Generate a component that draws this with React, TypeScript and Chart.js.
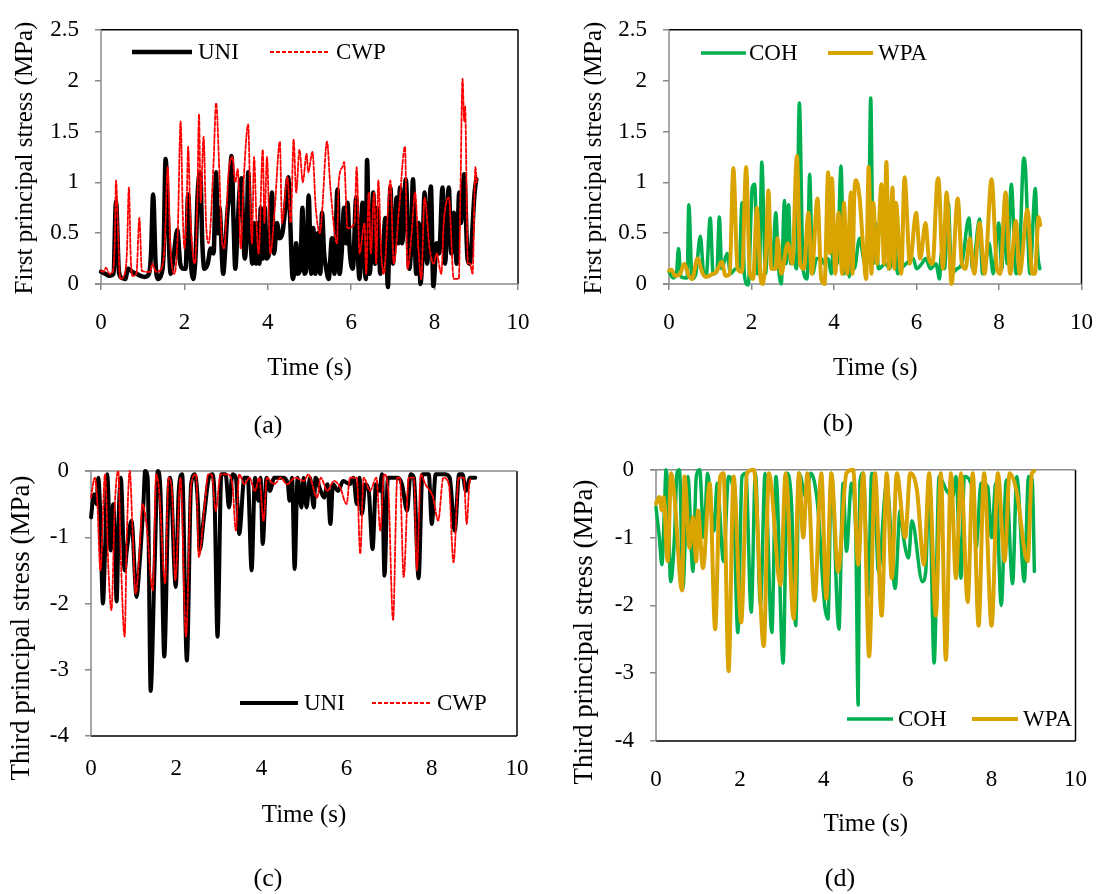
import React, { useEffect, useRef } from "react";
import { Chart, registerables } from "chart.js";
Chart.register(...registerables);

const FONT = "'Liberation Serif', 'Times New Roman', Times, serif";

type Pt = [number, number];

// ---------- (a) First principal stress: UNI / CWP ----------
const uniFirst: Pt[] = [[0,0.12],[0.1,0.1],[0.2,0.08],[0.3,0.1],[0.36,0.81],[0.43,0.12],[0.5,0.06],[0.58,0.05],[0.65,0.15],[0.75,0.12],[0.85,0.1],[0.95,0.08],[1.05,0.07],[1.15,0.1],[1.2,0.3],[1.25,0.88],[1.31,0.2],[1.37,0.05],[1.45,0.1],[1.5,0.3],[1.55,1.23],[1.61,0.6],[1.67,0.1],[1.75,0.3],[1.83,0.53],[1.9,0.2],[1.97,0.15],[2.03,0.15],[2.09,0.88],[2.15,0.25],[2.21,0.05],[2.27,0.3],[2.32,0.9],[2.38,1.1],[2.43,0.4],[2.48,0.15],[2.56,0.2],[2.63,0.35],[2.7,0.3],[2.76,1.1],[2.8,0.5],[2.84,0.75],[2.93,0.1],[2.98,0.35],[3.03,0.7],[3.08,0.9],[3.13,1.26],[3.18,0.6],[3.22,0.15],[3.27,0.5],[3.32,0.9],[3.37,1.04],[3.41,0.5],[3.45,0.25],[3.5,0.6],[3.53,1.1],[3.58,0.5],[3.63,0.2],[3.67,0.6],[3.72,0.2],[3.77,0.6],[3.8,0.2],[3.83,0.75],[3.88,0.25],[3.93,0.75],[3.97,0.25],[4.03,0.3],[4.1,0.9],[4.15,0.3],[4.22,0.6],[4.28,0.45],[4.35,0.5],[4.43,0.8],[4.49,1.05],[4.53,0.7],[4.6,0.05],[4.64,0.15],[4.68,0.4],[4.72,0.1],[4.78,0.15],[4.83,0.75],[4.88,0.1],[4.93,0.2],[4.98,0.87],[5.04,0.1],[5.09,0.55],[5.14,0.1],[5.2,0.5],[5.26,0.1],[5.3,0.7],[5.35,0.3],[5.4,0.15],[5.46,0.05],[5.54,0.45],[5.6,0.1],[5.67,0.93],[5.72,0.1],[5.77,0.3],[5.83,0.75],[5.88,0.4],[5.91,0.8],[5.97,0.3],[6.04,0.15],[6.12,0.85],[6.16,0.3],[6.2,0.05],[6.27,0.8],[6.32,0.2],[6.35,0.05],[6.38,1.22],[6.44,0.1],[6.49,0.4],[6.53,0.9],[6.57,0.2],[6.62,0.75],[6.7,0.1],[6.76,0.3],[6.82,0.65],[6.88,-0.03],[6.94,0.95],[7.0,0.2],[7.05,0.5],[7.09,0.85],[7.13,0.4],[7.17,0.95],[7.22,0.4],[7.31,1.03],[7.39,0.15],[7.44,0.4],[7.48,1.03],[7.56,0.1],[7.62,0.6],[7.66,0.0],[7.71,0.3],[7.76,0.9],[7.82,0.2],[7.91,0.96],[7.97,-0.02],[8.05,0.4],[8.11,0.3],[8.19,0.95],[8.25,0.2],[8.34,0.95],[8.4,0.3],[8.46,0.7],[8.53,0.2],[8.59,0.9],[8.63,0.6],[8.71,1.08],[8.79,0.25],[8.84,0.2],[8.96,0.9],[9.0,1.03]];
const cwpFirst: Pt[] = [[0,0.13],[0.06,0.12],[0.12,0.16],[0.2,0.1],[0.28,0.12],[0.33,0.4],[0.36,1.02],[0.41,0.5],[0.46,0.05],[0.55,0.08],[0.62,0.3],[0.67,0.95],[0.71,0.3],[0.75,0.08],[0.85,0.1],[0.92,0.65],[0.98,0.13],[1.1,0.12],[1.18,0.12],[1.23,0.2],[1.32,0.12],[1.45,0.15],[1.53,0.4],[1.6,1.15],[1.66,0.4],[1.76,0.1],[1.84,0.5],[1.91,1.6],[1.96,0.7],[2.0,0.35],[2.05,0.7],[2.09,1.35],[2.14,0.7],[2.25,0.2],[2.31,0.8],[2.35,1.67],[2.39,0.8],[2.46,1.45],[2.52,0.6],[2.58,0.4],[2.7,1.2],[2.76,1.78],[2.83,1.2],[2.89,0.5],[2.95,0.35],[3.06,1.1],[3.15,1.25],[3.22,1.0],[3.28,1.13],[3.35,0.35],[3.42,1.0],[3.53,1.57],[3.58,0.8],[3.62,0.4],[3.67,1.25],[3.73,0.6],[3.78,0.3],[3.88,1.32],[3.92,0.6],[3.98,1.25],[4.06,0.3],[4.16,0.7],[4.29,1.4],[4.34,0.6],[4.47,1.05],[4.55,0.6],[4.62,1.42],[4.68,0.9],[4.76,1.32],[4.84,1.0],[4.93,1.28],[4.97,1.1],[5.07,1.3],[5.15,0.75],[5.25,0.5],[5.3,0.7],[5.42,1.4],[5.5,0.95],[5.66,0.4],[5.7,1.0],[5.79,1.15],[5.83,1.2],[5.91,0.55],[6.08,0.6],[6.13,1.15],[6.2,0.3],[6.32,0.6],[6.36,0.1],[6.42,0.9],[6.47,0.3],[6.55,0.9],[6.6,0.2],[6.65,1.02],[6.72,0.3],[6.78,0.1],[6.94,1.02],[7.02,0.2],[7.15,0.75],[7.29,1.35],[7.35,0.15],[7.45,0.5],[7.53,0.9],[7.62,0.3],[7.68,0.05],[7.76,0.85],[7.88,0.35],[7.98,0.2],[8.05,0.3],[8.16,0.1],[8.22,0.6],[8.34,0.85],[8.46,0.05],[8.58,0.05],[8.62,0.9],[8.67,2.02],[8.71,1.6],[8.73,1.75],[8.8,0.2],[8.85,0.2],[8.91,0.1],[8.98,1.15],[9.01,1.0]];

// ---------- (b) First principal stress: COH / WPA ----------
const cohFirst: Pt[] = [[0,0.12],[0.1,0.06],[0.18,0.1],[0.23,0.35],[0.29,0.07],[0.44,0.06],[0.48,0.78],[0.56,0.05],[0.65,0.1],[0.76,0.47],[0.84,0.1],[0.9,0.07],[1.0,0.65],[1.07,0.1],[1.16,0.12],[1.22,0.66],[1.28,0.15],[1.41,0.3],[1.49,0.1],[1.62,0.15],[1.7,0.15],[1.77,0.8],[1.83,0.08],[1.92,-0.01],[2.02,0.95],[2.08,0.98],[2.14,0.1],[2.19,0.1],[2.25,1.2],[2.34,0.1],[2.42,0.6],[2.5,0.15],[2.59,0.7],[2.65,0.2],[2.72,0.0],[2.8,0.82],[2.84,0.2],[2.9,0.78],[2.95,0.2],[3.01,0.3],[3.09,0.15],[3.16,1.78],[3.25,0.15],[3.35,0.05],[3.41,1.08],[3.48,0.1],[3.58,0.25],[3.69,0.25],[3.76,0.2],[3.85,0.25],[3.94,0.1],[3.98,0.35],[4.08,0.2],[4.17,1.16],[4.24,0.1],[4.32,0.3],[4.37,0.07],[4.45,0.4],[4.49,0.15],[4.62,0.45],[4.75,0.2],[4.83,0.25],[4.89,1.83],[4.95,0.2],[5.0,0.6],[5.08,0.15],[5.25,0.2],[5.35,0.15],[5.46,0.5],[5.54,0.1],[5.63,0.15],[5.75,0.2],[5.92,0.25],[6.0,0.15],[6.13,0.2],[6.22,0.25],[6.34,0.15],[6.47,0.2],[6.56,0.05],[6.6,0.3],[6.68,0.15],[6.77,0.8],[6.85,0.1],[6.98,0.15],[7.1,0.2],[7.27,0.65],[7.36,0.15],[7.53,0.64],[7.6,0.1],[7.69,0.25],[7.76,0.4],[7.86,0.1],[7.99,0.6],[8.07,0.15],[8.12,0.65],[8.2,0.2],[8.3,0.98],[8.41,0.1],[8.5,0.3],[8.6,1.24],[8.64,1.15],[8.75,0.1],[8.88,0.94],[8.94,0.3],[8.99,0.15]];
const wpaFirst: Pt[] = [[0,0.13],[0.06,0.14],[0.14,0.08],[0.27,0.1],[0.37,0.2],[0.48,0.08],[0.56,0.05],[0.69,0.25],[0.82,0.1],[0.9,0.07],[1.07,0.1],[1.15,0.12],[1.28,0.22],[1.37,0.08],[1.47,0.1],[1.56,1.14],[1.66,0.15],[1.77,0.12],[1.87,1.15],[1.96,0.1],[2.04,0.05],[2.13,0.75],[2.21,0.1],[2.27,0.0],[2.36,0.4],[2.41,0.92],[2.48,0.15],[2.59,0.15],[2.63,0.45],[2.72,0.1],[2.88,0.4],[2.99,0.2],[3.1,1.26],[3.18,0.2],[3.27,0.15],[3.38,0.7],[3.46,0.1],[3.6,0.84],[3.69,0.05],[3.77,0.0],[3.86,1.1],[3.9,0.3],[3.95,1.04],[4.03,0.1],[4.11,0.7],[4.2,0.1],[4.24,0.8],[4.32,0.1],[4.41,0.9],[4.45,0.1],[4.49,0.85],[4.53,1.02],[4.62,0.85],[4.7,0.4],[4.78,0.05],[4.84,1.15],[4.91,0.1],[4.95,0.8],[5.04,0.2],[5.15,0.98],[5.21,0.2],[5.27,1.2],[5.33,0.15],[5.42,0.95],[5.46,0.15],[5.5,0.8],[5.63,0.1],[5.71,1.05],[5.84,0.2],[5.99,0.7],[6.09,0.25],[6.22,0.6],[6.3,0.25],[6.39,0.2],[6.5,1.0],[6.53,1.04],[6.64,0.15],[6.73,0.9],[6.85,0.0],[7.0,0.84],[7.1,0.2],[7.19,0.15],[7.29,0.45],[7.4,0.1],[7.53,0.6],[7.65,0.1],[7.82,1.03],[7.95,0.15],[8.03,0.1],[8.16,0.9],[8.27,0.1],[8.41,0.62],[8.5,0.1],[8.69,0.73],[8.81,0.1],[8.87,0.1],[8.96,0.66],[9.0,0.58]];

// ---------- (c) Third principal stress: UNI / CWP ----------
const uniThird: Pt[] = [[0,-0.7],[0.07,-0.35],[0.13,-0.5],[0.17,-0.1],[0.21,-0.5],[0.28,-2.0],[0.33,-1.2],[0.38,-0.05],[0.46,-1.2],[0.52,-0.5],[0.56,-1.0],[0.6,-1.97],[0.66,-0.5],[0.7,-0.1],[0.79,-1.5],[0.84,-1.2],[0.95,-0.75],[1.07,-1.9],[1.13,-1.5],[1.23,-0.5],[1.27,0.0],[1.33,-0.1],[1.4,-3.32],[1.49,-1.5],[1.57,0.0],[1.63,-0.3],[1.72,-2.8],[1.82,-0.3],[1.86,-0.1],[1.99,-1.75],[2.06,-0.3],[2.14,-0.05],[2.25,-2.86],[2.35,-0.2],[2.44,-0.05],[2.51,-0.5],[2.55,-1.2],[2.65,-0.7],[2.77,-0.1],[2.85,-0.05],[2.9,-0.4],[2.97,-2.5],[3.06,-0.05],[3.16,-0.05],[3.24,-0.55],[3.32,-0.05],[3.4,-0.1],[3.48,-0.95],[3.6,-0.1],[3.68,-0.1],[3.77,-1.5],[3.85,-0.1],[3.93,-0.45],[3.98,-0.1],[4.03,-1.1],[4.12,-0.1],[4.2,-0.3],[4.3,-0.1],[4.5,-0.1],[4.62,-0.2],[4.66,-0.45],[4.72,-0.1],[4.78,-1.48],[4.85,-0.1],[4.94,-0.55],[4.99,-0.1],[5.06,-0.55],[5.14,-0.1],[5.23,-0.55],[5.27,-0.1],[5.39,-0.3],[5.47,-0.4],[5.55,-0.2],[5.62,-0.8],[5.68,-0.2],[5.8,-0.3],[5.92,-0.15],[6.08,-0.2],[6.16,-0.1],[6.24,-0.5],[6.3,-0.1],[6.36,-0.65],[6.44,-0.2],[6.52,-0.3],[6.61,-1.18],[6.69,-0.2],[6.77,-0.3],[6.83,-0.05],[6.89,-1.58],[6.97,-0.1],[7.1,-0.1],[7.2,-0.1],[7.3,-0.2],[7.42,-0.6],[7.5,-0.05],[7.58,-0.1],[7.69,-1.62],[7.78,-0.05],[7.93,-0.05],[8.0,-0.8],[8.09,-0.05],[8.3,-0.05],[8.42,-0.1],[8.54,-0.9],[8.64,-0.05],[8.72,-0.05],[8.8,-0.3],[8.9,-0.1],[9.02,-0.1]];
const cwpThird: Pt[] = [[0,-0.4],[0.09,-0.1],[0.15,-0.5],[0.22,-1.5],[0.33,-0.05],[0.41,-1.5],[0.48,-2.1],[0.56,-0.5],[0.64,0.0],[0.7,-1.3],[0.79,-2.5],[0.84,-1.0],[0.91,0.0],[0.97,-0.8],[1.05,-1.85],[1.13,-1.3],[1.21,-0.5],[1.3,-0.8],[1.45,-1.8],[1.53,-0.05],[1.6,-0.3],[1.74,-1.7],[1.82,-0.1],[1.9,-0.3],[1.98,-1.65],[2.1,-0.1],[2.23,-2.5],[2.35,-0.2],[2.47,-0.05],[2.53,-1.3],[2.67,-0.5],[2.75,-0.05],[2.83,-0.05],[2.93,-0.6],[3.04,-0.05],[3.2,-0.05],[3.32,-0.2],[3.4,-0.9],[3.48,-0.05],[3.6,-0.2],[3.72,-0.1],[3.85,-0.3],[3.95,-0.1],[4.05,-0.75],[4.13,-0.1],[4.3,-0.2],[4.45,-0.1],[4.6,-0.2],[4.8,-0.1],[5.0,-0.15],[5.1,-0.05],[5.31,-0.4],[5.39,-0.1],[5.55,-0.3],[5.7,-0.15],[5.85,-0.25],[6.0,-0.5],[6.08,-0.1],[6.24,-0.1],[6.32,-1.25],[6.4,-0.1],[6.55,-0.3],[6.7,-0.1],[6.79,-0.9],[6.88,-0.05],[6.98,-0.3],[7.09,-2.25],[7.19,-0.1],[7.25,-0.1],[7.34,-1.6],[7.46,-0.1],[7.58,-0.1],[7.65,-1.5],[7.74,-0.05],[7.85,-0.2],[8.03,-0.4],[8.15,-0.75],[8.27,-0.1],[8.4,-0.2],[8.51,-1.38],[8.63,-0.1],[8.75,-0.1],[8.82,-0.8],[8.88,-0.2],[8.92,-0.1]];

// ---------- (d) Third principal stress: COH / WPA ----------
const cohThird: Pt[] = [[0,-0.55],[0.08,-1.0],[0.14,-1.4],[0.2,-0.6],[0.24,0.0],[0.28,-0.3],[0.35,-1.65],[0.44,-1.0],[0.5,-0.05],[0.56,0.0],[0.64,-1.75],[0.76,-0.1],[0.88,-1.5],[0.96,-0.1],[1.04,0.0],[1.14,-1.0],[1.23,-0.05],[1.38,-0.9],[1.46,-0.2],[1.61,-1.35],[1.73,-0.1],[1.84,-0.3],[1.95,-2.4],[2.05,-0.1],[2.14,-0.05],[2.27,-2.1],[2.37,-0.05],[2.49,-2.0],[2.6,-0.05],[2.76,-2.4],[2.86,-0.1],[3.03,-2.85],[3.13,-0.05],[3.23,-0.5],[3.33,-2.3],[3.41,-0.05],[3.57,-0.4],[3.69,-0.05],[3.85,-0.5],[4.02,-2.0],[4.1,-2.2],[4.18,-0.05],[4.36,-2.35],[4.46,-0.2],[4.54,-1.2],[4.66,-0.2],[4.76,-0.9],[4.82,-3.47],[4.86,-0.2],[4.94,-0.05],[5.06,-1.85],[5.14,-0.05],[5.22,-0.3],[5.3,-1.5],[5.5,-0.2],[5.7,-1.75],[5.82,-0.6],[5.9,-1.0],[6.02,-1.3],[6.1,-0.75],[6.35,-1.65],[6.43,-1.5],[6.51,-0.1],[6.63,-2.85],[6.75,-0.1],[6.92,-0.3],[7.07,-0.4],[7.15,-0.1],[7.27,-1.6],[7.35,-0.1],[7.55,-0.3],[7.63,-1.15],[7.75,-0.2],[7.91,-0.25],[8.0,-1.0],[8.1,-0.2],[8.23,-2.0],[8.35,-0.15],[8.5,-1.68],[8.6,-0.1],[8.78,-1.65],[8.88,-0.1],[8.97,-0.15],[9.02,-1.5]];
const wpaThird: Pt[] = [[0,-0.5],[0.08,-0.4],[0.14,-0.6],[0.18,-0.4],[0.28,-1.35],[0.36,-0.05],[0.44,-0.4],[0.62,-1.78],[0.68,-0.1],[0.8,-1.15],[0.88,-0.7],[0.96,-1.35],[1.0,-0.6],[1.12,-1.45],[1.28,-0.2],[1.41,-2.35],[1.53,-0.1],[1.61,-0.05],[1.73,-2.97],[1.85,-0.1],[2.03,-2.25],[2.17,-0.05],[2.33,0.0],[2.57,-2.6],[2.69,-0.05],[2.97,-1.7],[3.09,-0.05],[3.28,-2.2],[3.41,-0.05],[3.51,-1.0],[3.61,-0.05],[3.78,-1.93],[3.94,-0.05],[4.06,-1.9],[4.18,-0.05],[4.34,-1.5],[4.54,-0.05],[4.7,0.0],[4.82,-1.4],[4.94,-0.05],[5.08,-2.75],[5.22,-0.05],[5.38,-2.15],[5.5,-0.05],[5.62,-1.6],[5.74,-0.05],[5.94,-1.0],[6.06,-0.05],[6.22,-0.3],[6.39,-1.4],[6.51,-0.05],[6.67,-2.15],[6.79,-0.05],[6.91,-2.8],[7.03,-0.05],[7.15,-1.6],[7.27,-0.05],[7.43,-1.95],[7.55,-0.05],[7.69,-2.3],[7.82,-0.05],[8.0,-2.3],[8.15,-0.05],[8.31,-1.35],[8.43,-0.05],[8.59,-0.3],[8.86,-1.35],[8.96,-0.05],[9.02,-0.02]];

const X_MIN = 0, X_MAX = 10, X_STEP = 2;
const FIRST_RANGE = { min: 0, max: 2.5, step: 0.5 };
const THIRD_RANGE = { min: -4, max: 0, step: 1 };

interface SeriesDef { label: string; data: Pt[]; color: string; width: number; dash?: number[]; }
interface LegendDef { x1: number; x2: number; y: number; tx: number; }
interface PanelDef {
  box: { left: number; top: number; width: number; height: number };
  plot: { l: number; r: number; t: number; b: number };
  range: { min: number; max: number; step: number };
  xAxisH: number; xTickPad: number; axisAtTop: boolean;
  yTitle: string; yTitleX: number; yTitleY: number; yTitleSize: number;
  series: SeriesDef[]; legend: LegendDef[];
  caption: string; capX: number; capY: number;
}

const RED = "#FF0000", GREEN = "#00B050", GOLD = "#D9A300";

const panels: PanelDef[] = [
  {
    box: { left: 0, top: 0, width: 556, height: 440 },
    plot: { l: 101, r: 518, t: 16, b: 284 },
    range: FIRST_RANGE, xAxisH: 99, xTickPad: 19, axisAtTop: false,
    yTitle: "First principal stress (MPa)", yTitleX: 25, yTitleY: 158, yTitleSize: 25,
    series: [
      { label: "UNI", data: uniFirst, color: "#000000", width: 4.5 },
      { label: "CWP", data: cwpFirst, color: RED, width: 1.8, dash: [4, 2] },
    ],
    legend: [ { x1: 132, x2: 192, y: 52, tx: 198 }, { x1: 270, x2: 330, y: 52, tx: 336 } ],
    caption: "(a)", capX: 268, capY: 425,
  },
  {
    box: { left: 556, top: 0, width: 556, height: 440 },
    plot: { l: 669, r: 1088, t: 16, b: 284 },
    range: FIRST_RANGE, xAxisH: 99, xTickPad: 19, axisAtTop: false,
    yTitle: "First principal stress (MPa)", yTitleX: 594, yTitleY: 158, yTitleSize: 25,
    series: [
      { label: "COH", data: cohFirst, color: GREEN, width: 3.5 },
      { label: "WPA", data: wpaFirst, color: GOLD, width: 4 },
    ],
    legend: [ { x1: 701, x2: 746, y: 53, tx: 749 }, { x1: 828, x2: 873, y: 53, tx: 878 } ],
    caption: "(b)", capX: 838, capY: 423,
  },
  {
    box: { left: 0, top: 440, width: 556, height: 454 },
    plot: { l: 91, r: 517, t: 471, b: 736 },
    range: THIRD_RANGE, xAxisH: 94, xTickPad: 19, axisAtTop: true,
    yTitle: "Third principal stress (MPa)", yTitleX: 22, yTitleY: 628, yTitleSize: 27,
    series: [
      { label: "UNI", data: uniThird, color: "#000000", width: 4 },
      { label: "CWP", data: cwpThird, color: RED, width: 1.8, dash: [4, 2] },
    ],
    legend: [ { x1: 240, x2: 298, y: 703, tx: 304 }, { x1: 372, x2: 430, y: 703, tx: 437 } ],
    caption: "(c)", capX: 268, capY: 878,
  },
  {
    box: { left: 556, top: 440, width: 556, height: 454 },
    plot: { l: 656, r: 1096, t: 467, b: 741 },
    range: THIRD_RANGE, xAxisH: 98, xTickPad: 25, axisAtTop: true,
    yTitle: "Third principal stress (MPa)", yTitleX: 585, yTitleY: 632, yTitleSize: 27,
    series: [
      { label: "COH", data: cohThird, color: GREEN, width: 3.5 },
      { label: "WPA", data: wpaThird, color: GOLD, width: 4 },
    ],
    legend: [ { x1: 847, x2: 893, y: 719, tx: 898 }, { x1: 972, x2: 1018, y: 719, tx: 1023 } ],
    caption: "(d)", capX: 840, capY: 878,
  },
];

const AXIS_GRAY = "#8a8a8a";

function PanelChart({ def }: { def: PanelDef }) {
  const ref = useRef<HTMLCanvasElement | null>(null);
  useEffect(() => {
    const canvas = ref.current;
    if (!canvas) return;
    const { box, plot } = def;
    const yAxisW = plot.l - box.left;
    const padTop = plot.t - box.top;
    const padRight = box.left + box.width - plot.r;
    const padBottom = box.top + box.height - plot.b - def.xAxisH;

    const framePlugin = {
      id: "frame",
      beforeDatasetsDraw(chart: any) {
        const { ctx, chartArea } = chart;
        const { left, right, top, bottom } = chartArea;
        const seg = (x1: number, y1: number, x2: number, y2: number, c: string) => {
          ctx.save();
          ctx.strokeStyle = c;
          ctx.lineWidth = 1.5;
          ctx.beginPath();
          ctx.moveTo(x1, y1);
          ctx.lineTo(x2, y2);
          ctx.stroke();
          ctx.restore();
        };
        if (!def.axisAtTop) {
          seg(left, top, right, top, "#000");
          seg(right, top, right, bottom, "#000");
          seg(left, top, left, bottom, AXIS_GRAY);
          seg(left - 6, bottom, right, bottom, AXIS_GRAY);
        } else {
          seg(left, bottom, right, bottom, "#000");
          seg(right, top, right, bottom, "#000");
          seg(left, top, left, bottom, AXIS_GRAY);
          const y0 = chart.scales.y.getPixelForValue(0);
          seg(left - 6, y0, right, y0, AXIS_GRAY);
        }
      },
    };

    const decorPlugin = {
      id: "decor",
      afterDraw(chart: any) {
        const ctx = chart.ctx;
        ctx.save();
        ctx.translate(def.yTitleX - box.left, def.yTitleY - box.top);
        ctx.rotate(-Math.PI / 2);
        ctx.font = `${def.yTitleSize}px ${FONT}`;
        ctx.fillStyle = "#000";
        ctx.textAlign = "center";
        ctx.textBaseline = "middle";
        ctx.fillText(def.yTitle, 0, 0);
        ctx.restore();
        def.series.forEach((s, i) => {
          const lg = def.legend[i];
          if (!lg) return;
          ctx.save();
          ctx.strokeStyle = s.color;
          ctx.lineWidth = s.width;
          ctx.setLineDash(s.dash || []);
          ctx.beginPath();
          ctx.moveTo(lg.x1 - box.left, lg.y - box.top);
          ctx.lineTo(lg.x2 - box.left, lg.y - box.top);
          ctx.stroke();
          ctx.setLineDash([]);
          ctx.fillStyle = "#000";
          ctx.font = `23px ${FONT}`;
          ctx.textAlign = "left";
          ctx.textBaseline = "middle";
          ctx.fillText(s.label, lg.tx - box.left, lg.y - box.top + 1);
          ctx.restore();
        });
      },
    };

    const chart = new Chart(canvas, {
      type: "line",
      data: {
        datasets: def.series.map((s, i) => ({
          label: s.label,
          data: s.data.map(([x, y]) => ({ x, y })),
          borderColor: s.color,
          backgroundColor: s.color,
          borderWidth: s.width,
          borderDash: s.dash || [],
          borderJoinStyle: "round" as const,
          borderCapStyle: "round" as const,
          pointRadius: 0,
          fill: false,
          tension: 0.35,
          cubicInterpolationMode: "monotone" as const,
          order: i === 0 ? 1 : 0,
          clip: 6,
        })),
      },
      options: {
        responsive: false,
        animation: false,
        events: [],
        layout: { padding: { left: 0, top: padTop, right: padRight, bottom: padBottom } },
        plugins: { legend: { display: false }, tooltip: { enabled: false }, title: { display: false } },
        scales: {
          x: {
            type: "linear",
            position: "bottom",
            min: X_MIN,
            max: X_MAX,
            afterFit: (scale: any) => { scale.height = def.xAxisH; },
            border: { display: false },
            grid: def.axisAtTop
              ? { display: false, drawTicks: false }
              : { drawOnChartArea: false, drawTicks: true, tickLength: 6, color: AXIS_GRAY, lineWidth: 1.5 },
            ticks: {
              stepSize: X_STEP,
              autoSkip: false,
              maxRotation: 0,
              padding: def.xTickPad,
              color: "#000",
              font: { family: FONT, size: 23 },
              callback: (v: any) => String(Math.round(Number(v) * 100) / 100),
            },
            title: {
              display: true,
              text: "Time (s)",
              color: "#000",
              font: { family: FONT, size: 25 },
              padding: { top: 0, bottom: 0 },
            },
          },
          y: {
            type: "linear",
            min: def.range.min,
            max: def.range.max,
            afterFit: (scale: any) => { scale.width = yAxisW; },
            border: { display: false },
            grid: { drawOnChartArea: false, drawTicks: true, tickLength: 6, color: AXIS_GRAY, lineWidth: 1.5 },
            ticks: {
              stepSize: def.range.step,
              autoSkip: false,
              padding: 16,
              color: "#000",
              font: { family: FONT, size: 23 },
              callback: (v: any) => String(Math.round(Number(v) * 100) / 100),
            },
          },
        },
      },
      plugins: [framePlugin, decorPlugin],
    } as any);
    return () => chart.destroy();
  }, [def]);

  return (
    <canvas
      ref={ref}
      width={def.box.width}
      height={def.box.height}
      style={{ position: "absolute", left: def.box.left, top: def.box.top, width: def.box.width, height: def.box.height }}
    />
  );
}

export default function App() {
  return (
    <div style={{ position: "absolute", left: 0, top: 0, width: 1112, height: 894, background: "#fff", overflow: "hidden" }}>
      {panels.map((p, i) => (
        <PanelChart key={i} def={p} />
      ))}
      {panels.map((p, i) => (
        <div
          key={"c" + i}
          style={{
            position: "absolute",
            left: p.capX,
            top: p.capY,
            transform: "translate(-50%, -50%)",
            fontFamily: FONT,
            fontSize: 26,
            color: "#000",
            whiteSpace: "nowrap",
            lineHeight: 1,
          }}
        >
          {p.caption}
        </div>
      ))}
    </div>
  );
}
